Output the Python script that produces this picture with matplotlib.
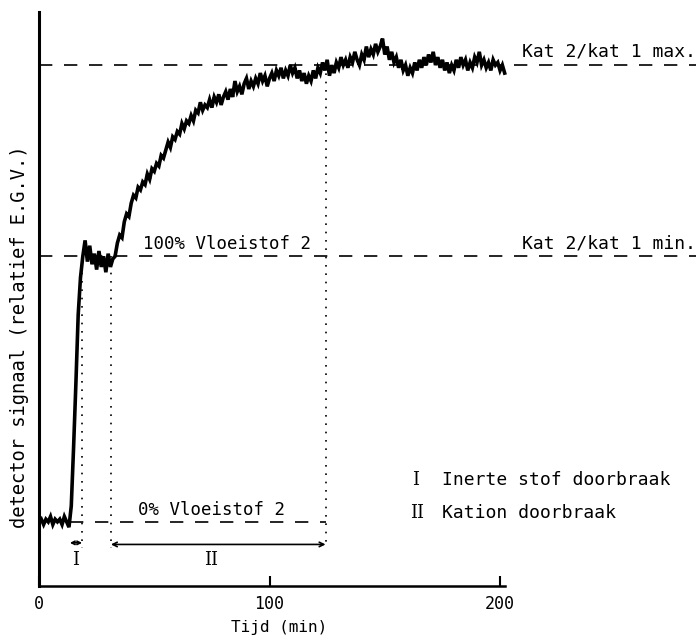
import numpy as np
import matplotlib
matplotlib.use("Agg")
import matplotlib.pyplot as plt

plt.rcParams['font.family'] = ['DejaVu Sans Mono', 'DejaVu Sans']

# signal, one value per minute (t = 0 .. 202)
signal = [
    0.00, 0.01, -0.01, 0.01, 0.00, 0.02, -0.01, 0.01, 0.00, 0.01, -0.01, 0.02, 0.00,
    -0.02, 0.06, 0.28, 0.52, 0.78, 0.92, 1.00, 1.06,
    0.98, 1.04, 0.97, 1.01, 0.95, 1.02, 0.96, 1.00, 0.94, 1.01, 0.96, 0.99, 1.00,
    1.05, 1.08, 1.07, 1.13, 1.16, 1.15, 1.20, 1.23, 1.22, 1.26, 1.25, 1.28, 1.27,
    1.31, 1.29, 1.33, 1.32, 1.35, 1.34, 1.38, 1.37, 1.40, 1.43, 1.41, 1.45, 1.44,
    1.47, 1.46, 1.50, 1.48, 1.51, 1.50, 1.53, 1.51, 1.55, 1.54, 1.58, 1.55, 1.57,
    1.56, 1.59, 1.56, 1.60, 1.58, 1.61, 1.57, 1.60, 1.62, 1.59, 1.63, 1.60, 1.66,
    1.62, 1.64, 1.61, 1.65, 1.67, 1.63, 1.66, 1.64, 1.67, 1.65, 1.69, 1.66, 1.68,
    1.64, 1.67, 1.69, 1.66, 1.70, 1.68, 1.71, 1.67, 1.70, 1.68, 1.72, 1.69, 1.71,
    1.67, 1.70, 1.66, 1.69, 1.65, 1.68, 1.66, 1.70, 1.67, 1.71, 1.69, 1.73, 1.70,
    1.74, 1.68, 1.72, 1.69, 1.73, 1.71, 1.75, 1.72, 1.74, 1.71, 1.75, 1.73, 1.77,
    1.74, 1.72, 1.76, 1.74, 1.79, 1.75, 1.78, 1.76, 1.80, 1.77, 1.79, 1.82, 1.76,
    1.79, 1.74, 1.77, 1.73, 1.75, 1.71, 1.74, 1.70, 1.72, 1.68, 1.71, 1.69, 1.73,
    1.70, 1.74, 1.71, 1.75, 1.72, 1.76, 1.73, 1.77, 1.72, 1.75, 1.71, 1.74, 1.70,
    1.73, 1.69, 1.72, 1.70, 1.74, 1.71, 1.75, 1.72, 1.74, 1.70, 1.73, 1.71, 1.75,
    1.73, 1.77, 1.72, 1.74, 1.71, 1.73, 1.70, 1.74, 1.72, 1.73, 1.70, 1.72, 1.69,
]
time = np.arange(len(signal))

level_min = 1.0          # Kat 2/kat 1 min. (100% Vloeistof 2)
level_max = 1.72         # Kat 2/kat 1 max.
level_zero = 0.0         # 0% Vloeistof 2
t_start = 13.4           # start of breakthrough
t_inert = 18.7           # I: inert substance breakthrough
t_switch = 31.2          # start of cation period
t_cation = 124.3         # II: cation breakthrough

xticks = [0, 100, 200]

fig = plt.figure(figsize=(6.99, 6.40), dpi=100)
ax = fig.add_axes([39 / 699, 1 - 585.6 / 640, 657 / 699, 573.6 / 640])
ax.set_xlim(0, 285)
ax.set_ylim(-0.24, 1.92)

ax.plot(time, signal, color='black', lw=2.6, solid_joinstyle='miter')

dash = (0, (8, 7))
ax.plot([0, 285], [level_max, level_max], color='black', lw=1.2, ls=dash)
ax.plot([0, 285], [level_min, level_min], color='black', lw=1.2, ls=dash)
ax.plot([t_start, t_cation], [level_zero, level_zero], color='black', lw=1.2, ls=dash)

dot = (0, (1, 4))
ax.plot([t_inert, t_inert], [level_min, -0.10], color='black', lw=1.2, ls=dot)
ax.plot([t_switch, t_switch], [level_min, -0.10], color='black', lw=1.2, ls=dot)
ax.plot([t_cation, t_cation], [level_max, -0.10], color='black', lw=1.2, ls=dot)

ax.annotate('', xy=(t_start, -0.079), xytext=(t_inert, -0.079),
            arrowprops=dict(arrowstyle='<->', color='black', lw=1.2,
                            shrinkA=0, shrinkB=0, mutation_scale=6))
ax.annotate('', xy=(t_switch, -0.085), xytext=(t_cation, -0.085),
            arrowprops=dict(arrowstyle='<->', color='black', lw=1.2,
                            shrinkA=0, shrinkB=0, mutation_scale=8))

ax.text(16, -0.145, 'I', family='DejaVu Serif', fontsize=13, ha='center', va='center')
ax.text(74.6, -0.145, 'II', family='DejaVu Serif', fontsize=13, ha='center', va='center')

ax.text(209.5, 1.77, 'Kat 2/kat 1 max.', fontsize=13, ha='left', va='center')
ax.text(209.5, 1.048, 'Kat 2/kat 1 min.', fontsize=13, ha='left', va='center')
ax.text(45, 1.045, '100% Vloeistof 2', fontsize=12.5, ha='left', va='center')
ax.text(43, 0.043, '0% Vloeistof 2', fontsize=12.5, ha='left', va='center')

ax.text(163.3, 0.158, 'I', family='DejaVu Serif', fontsize=13, ha='center', va='center')
ax.text(163.8, 0.034, 'II', family='DejaVu Serif', fontsize=13, ha='center', va='center')
ax.text(174.8, 0.158, 'Inerte stof doorbraak', fontsize=13, ha='left', va='center')
ax.text(174.8, 0.034, 'Kation doorbraak', fontsize=13, ha='left', va='center')

for side in ['top', 'right']:
    ax.spines[side].set_visible(False)
ax.spines['left'].set_linewidth(2.2)
ax.spines['bottom'].set_linewidth(1.8)
ax.spines['bottom'].set_bounds(0, 202)

ax.set_xticks(xticks)
ax.set_xticklabels([str(v) for v in xticks])
ax.tick_params(axis='x', direction='in', length=7, width=1.5, labelsize=12, pad=7)
ax.set_yticks([])

ax.set_xlabel('Tijd (min)', fontsize=11.5)
ax.xaxis.set_label_coords((279 - 39) / 657, -(620 - 585.6) / 573.6)
ax.set_ylabel('detector signaal (relatief E.G.V.)', fontsize=13.5)
ax.yaxis.set_label_coords(-10 / 657, (585.6 - 337) / 573.6)

fig.savefig('out.png', dpi=100)
